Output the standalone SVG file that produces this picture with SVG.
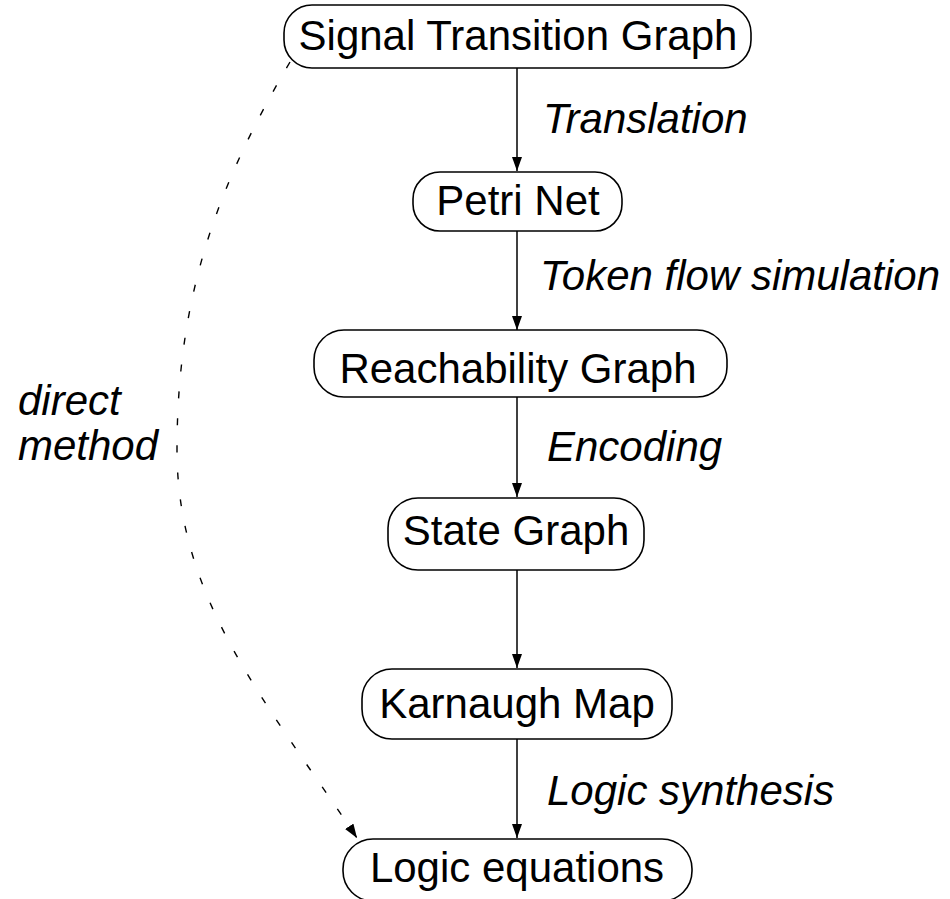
<svg xmlns="http://www.w3.org/2000/svg" width="950" height="899" viewBox="0 0 950 899">
<style>
.box{fill:#fff;stroke:#000;stroke-width:1.6}
.t{font-family:"Liberation Sans",Arial,sans-serif;font-size:42px;fill:#000;text-anchor:middle}
.l{font-family:"Liberation Sans",Arial,sans-serif;font-size:42px;font-style:italic;fill:#000}
.e{stroke:#000;stroke-width:1.5;fill:none}
.d{stroke:#000;stroke-width:1.4;fill:none;stroke-dasharray:7 20}
</style>
<defs>
<marker id="ah" viewBox="0 0 14 10" refX="14" refY="5" markerWidth="14" markerHeight="10" markerUnits="userSpaceOnUse" orient="auto">
<path d="M0,0 L14,5 L0,10 z" fill="#000"/>
</marker>
</defs>
<rect width="950" height="899" fill="#fff"/>
<g id="connectors">
<line class="e" x1="517" y1="68" x2="517" y2="171" marker-end="url(#ah)"/>
<line class="e" x1="517" y1="231" x2="517" y2="330" marker-end="url(#ah)"/>
<line class="e" x1="517" y1="397" x2="517" y2="497" marker-end="url(#ah)"/>
<line class="e" x1="517" y1="570" x2="517" y2="668" marker-end="url(#ah)"/>
<line class="e" x1="517" y1="739" x2="517" y2="838" marker-end="url(#ah)"/>
<path class="d" d="M290,62 C215,189 177,300 177,450 C177,600 267,703 357,838" marker-end="url(#ah)"/>
<text class="l" x="543" y="133">Translation</text>
<text class="l" x="540" y="290">Token flow simulation</text>
<text class="l" x="547" y="461">Encoding</text>
<text class="l" x="547" y="805">Logic synthesis</text>
<text class="l" x="18" y="415">direct</text>
<text class="l" x="18" y="460">method</text>
</g>
<g id="n1"><rect class="box" x="284" y="5" width="467" height="63" rx="28"/><text class="t" x="518" y="50">Signal Transition Graph</text></g>
<g id="n2"><rect class="box" x="413" y="172" width="209" height="59" rx="27"/><text class="t" x="518" y="215">Petri Net</text></g>
<g id="n3"><rect class="box" x="314" y="330" width="413" height="67" rx="30"/><text class="t" x="518" y="383">Reachability Graph</text></g>
<g id="n4"><rect class="box" x="388" y="498" width="256" height="72" rx="30"/><text class="t" x="516" y="545">State Graph</text></g>
<g id="n5"><rect class="box" x="362" y="669" width="310" height="70" rx="30"/><text class="t" x="517" y="718">Karnaugh Map</text></g>
<g id="n6"><rect class="box" x="343" y="839" width="349" height="62" rx="30"/><text class="t" x="517" y="882">Logic equations</text></g>
</svg>
